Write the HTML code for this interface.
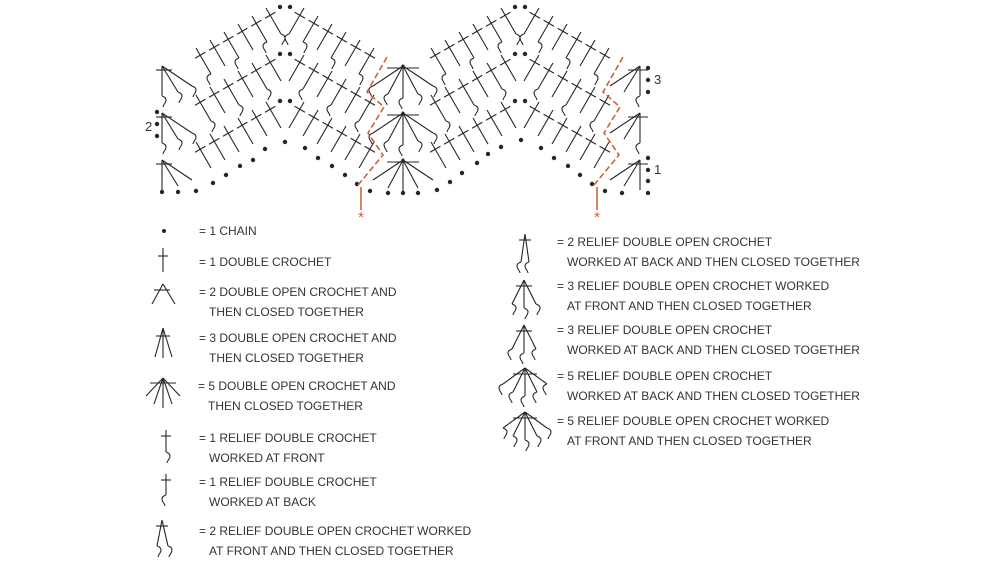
<!DOCTYPE html>
<html><head><meta charset="utf-8"><style>
html,body{margin:0;padding:0;background:#fff;}
body{width:1000px;height:560px;overflow:hidden;position:relative;font-family:"Liberation Sans",sans-serif;}
svg{position:absolute;left:0;top:0;}
.t{position:absolute;font-size:12px;color:#333;line-height:20px;white-space:nowrap;letter-spacing:0;}
</style></head><body>
<svg id="s" width="1000" height="560" viewBox="0 0 1000 560"></svg>
<div class="t" style="left:199px;top:221px">= 1 CHAIN</div>
<div class="t" style="left:199px;top:252px">= 1 DOUBLE CROCHET</div>
<div class="t" style="left:199px;top:282px">= 2 DOUBLE OPEN CROCHET AND<br>&nbsp;&nbsp;&nbsp;THEN CLOSED TOGETHER</div>
<div class="t" style="left:199px;top:328px">= 3 DOUBLE OPEN CROCHET AND<br>&nbsp;&nbsp;&nbsp;THEN CLOSED TOGETHER</div>
<div class="t" style="left:198px;top:376px">= 5 DOUBLE OPEN CROCHET AND<br>&nbsp;&nbsp;&nbsp;THEN CLOSED TOGETHER</div>
<div class="t" style="left:199px;top:428px">= 1 RELIEF DOUBLE CROCHET<br>&nbsp;&nbsp;&nbsp;WORKED AT FRONT</div>
<div class="t" style="left:199px;top:472px">= 1 RELIEF DOUBLE CROCHET<br>&nbsp;&nbsp;&nbsp;WORKED AT BACK</div>
<div class="t" style="left:199px;top:521px">= 2 RELIEF DOUBLE OPEN CROCHET WORKED<br>&nbsp;&nbsp;&nbsp;AT FRONT AND THEN CLOSED TOGETHER</div>
<div class="t" style="left:557px;top:232px">= 2 RELIEF DOUBLE OPEN CROCHET<br>&nbsp;&nbsp;&nbsp;WORKED AT BACK AND THEN CLOSED TOGETHER</div>
<div class="t" style="left:557px;top:276px">= 3 RELIEF DOUBLE OPEN CROCHET WORKED<br>&nbsp;&nbsp;&nbsp;AT FRONT AND THEN CLOSED TOGETHER</div>
<div class="t" style="left:557px;top:320px">= 3 RELIEF DOUBLE OPEN CROCHET<br>&nbsp;&nbsp;&nbsp;WORKED AT BACK AND THEN CLOSED TOGETHER</div>
<div class="t" style="left:557px;top:366px">= 5 RELIEF DOUBLE OPEN CROCHET<br>&nbsp;&nbsp;&nbsp;WORKED AT BACK AND THEN CLOSED TOGETHER</div>
<div class="t" style="left:557px;top:411px">= 5 RELIEF DOUBLE OPEN CROCHET WORKED<br>&nbsp;&nbsp;&nbsp;AT FRONT AND THEN CLOSED TOGETHER</div>
<div class="t" style="left:145px;top:117px;font-size:13px">2</div>
<div class="t" style="left:654px;top:70px;font-size:13px">3</div>
<div class="t" style="left:654px;top:160px;font-size:13px">1</div>
<script>
var s=document.getElementById('s'),h='';
var C='#2a2522';
function L(a,b,c,d,col,w,da){h+='<line x1="'+a+'" y1="'+b+'" x2="'+c+'" y2="'+d+'" stroke="'+(col||C)+'" stroke-width="'+(w||1.1)+'"'+(da?' stroke-dasharray="'+da+'"':'')+'/>';}
function D(x,y,r){h+='<circle cx="'+x+'" cy="'+y+'" r="'+(r||2.2)+'" fill="'+C+'"/>';}
function hook(x,y,dx,dy,front){
 var sgn=front?1:-1;
 h+='<path d="M'+x+' '+y+' q'+(sgn*6)+' 2 '+(sgn*3)+' 7 q'+(sgn*-2)+' 3 '+(sgn*-2)+' 4" fill="none" stroke="'+C+'" stroke-width="1.1"/>';}
function st(bx,by,tx,ty,hk,front){
 L(bx,by,tx,ty);
 var dx=tx-bx,dy=ty-by,l=Math.hypot(dx,dy),ux=dx/l,uy=dy/l;
 var cx=bx+dx*0.72,cy=by+dy*0.72;
 L(cx-uy*6,cy+ux*6,cx+uy*6,cy-ux*6);
 if(hk)hook(bx,by,0,0,front);
}
var bd=[[162,192],[178,192],[196,191],[213,183],[226,175],[240,166],[253,160],[265,149],[285,142],[305,148],[318,158],[332,166],[345,175],[357,184],[370,191],[388,193],[403,193],[418,193],[437,190],[450,182],[462,173],[477,163],[488,154],[501,147],[521,140],[541,148],[554,158],[568,166],[580,175],[592,184],[605,191],[622,193],[648,193]];
bd.forEach(function(p){D(p[0],p[1]);});
[[157,112],[157,124],[157,136],[648,68],[648,80],[648,92],[648,158],[648,170],[648,181]].forEach(function(p){D(p[0],p[1]);});
[285,520].forEach(function(P){
 for(var r=0;r<3;r++){
  D(P-5,7+47*r);D(P+5,7+47*r);
  for(var i=0;i<6;i++){
   var by=128-47*r+8*i, hk=(r>0&&i%2==1)||(r==2&&i%3==0);
   var front=(r+i)%2==0;
   var bx=P-4-14*i;
   st(bx,by,bx-15,by-26,hk,front);
   bx=P+4+14*i;
   st(bx,by,bx+15,by-26,hk,!front);
  }
 }
});
for(var r=0;r<3;r++){
 var x=403,y=66+47*r;
 L(x-16,y+2,x+16,y+2);
 [[-30,20],[-15,28],[0,32],[15,28],[30,20]].forEach(function(o,k){L(x,y,x+o[0],y+o[1]); if(r<2)hook(x+o[0],y+o[1],0,0,k>2);});
 D(x,y,1.5);
}
for(var r=0;r<3;r++){
 var y=66+47*r;
 var x=162; L(x-6,y+4,x+10,y+4);
 L(x,y,x,y+30);L(x,y,x+16,y+26);L(x,y,x+30,y+20); if(r<2){hook(x,y+30,0,0,1);hook(x+16,y+26,0,0,1);hook(x+30,y+20,0,0,1);}
 x=640; L(x-12,y+4,x+8,y+4);
 L(x,y,x,y+30);L(x,y,x-16,y+26);L(x,y,x-30,y+20); if(r<2){hook(x,y+30,0,0,0);}
}
var O='#c8643a';
function zig(dx){
 var pts=[[358,185],[383,155],[368,133],[384,107],[367,92],[387,57]];
 var d='M'+pts.map(function(p){return (p[0]+dx)+' '+p[1];}).join(' L');
 h+='<path d="'+d+'" fill="none" stroke="'+O+'" stroke-width="1.6" stroke-dasharray="6 3"/>';
 L(361+dx,187,361+dx,210,O,1.6);
 h+='<text x="'+(361+dx)+'" y="222" text-anchor="middle" font-size="15" fill="'+O+'" font-family="Liberation Sans,sans-serif">*</text>';
}
zig(0);zig(236);
D(164,231,2);
L(163,248,163,272);L(158,256,168,256);
L(152,304,163,284);L(163,284,175,304);L(154,290,170,290);
L(155,357,163,328);L(163,328,163,358);L(163,328,172,357);L(156,336,170,336);
var x5=163,y5=378;L(150,383,176,383);
[[-17,18],[-9,26],[0,30],[9,26],[17,18]].forEach(function(o){L(x5,y5,x5+o[0],y5+o[1]);});
L(166,430,166,452);L(161,436,171,436);hook(166,452,0,0,1);
L(166,474,166,495);L(161,480,171,480);hook(166,495,0,0,0);
L(162,520,157,546);L(162,520,168,546);L(156,526,168,526);hook(157,546,0,0,1);hook(168,546,0,0,1);
function cl(x,y,offs,front,bar){L(x-bar,y+6,x+bar,y+6);offs.forEach(function(o){L(x,y,x+o[0],y+o[1]);hook(x+o[0],y+o[1],0,0,front);});}
cl(525,234,[[-4,28],[4,28]],0,6);
cl(524,280,[[-12,24],[0,28],[12,24]],1,8);
cl(524,325,[[-12,24],[0,28],[12,24]],0,8);
cl(525,368,[[-22,16],[-12,24],[0,28],[12,24],[22,16]],0,12);
cl(525,412,[[-22,16],[-12,24],[0,28],[12,24],[22,16]],1,12);
s.innerHTML=h;
</script>
</body></html>
